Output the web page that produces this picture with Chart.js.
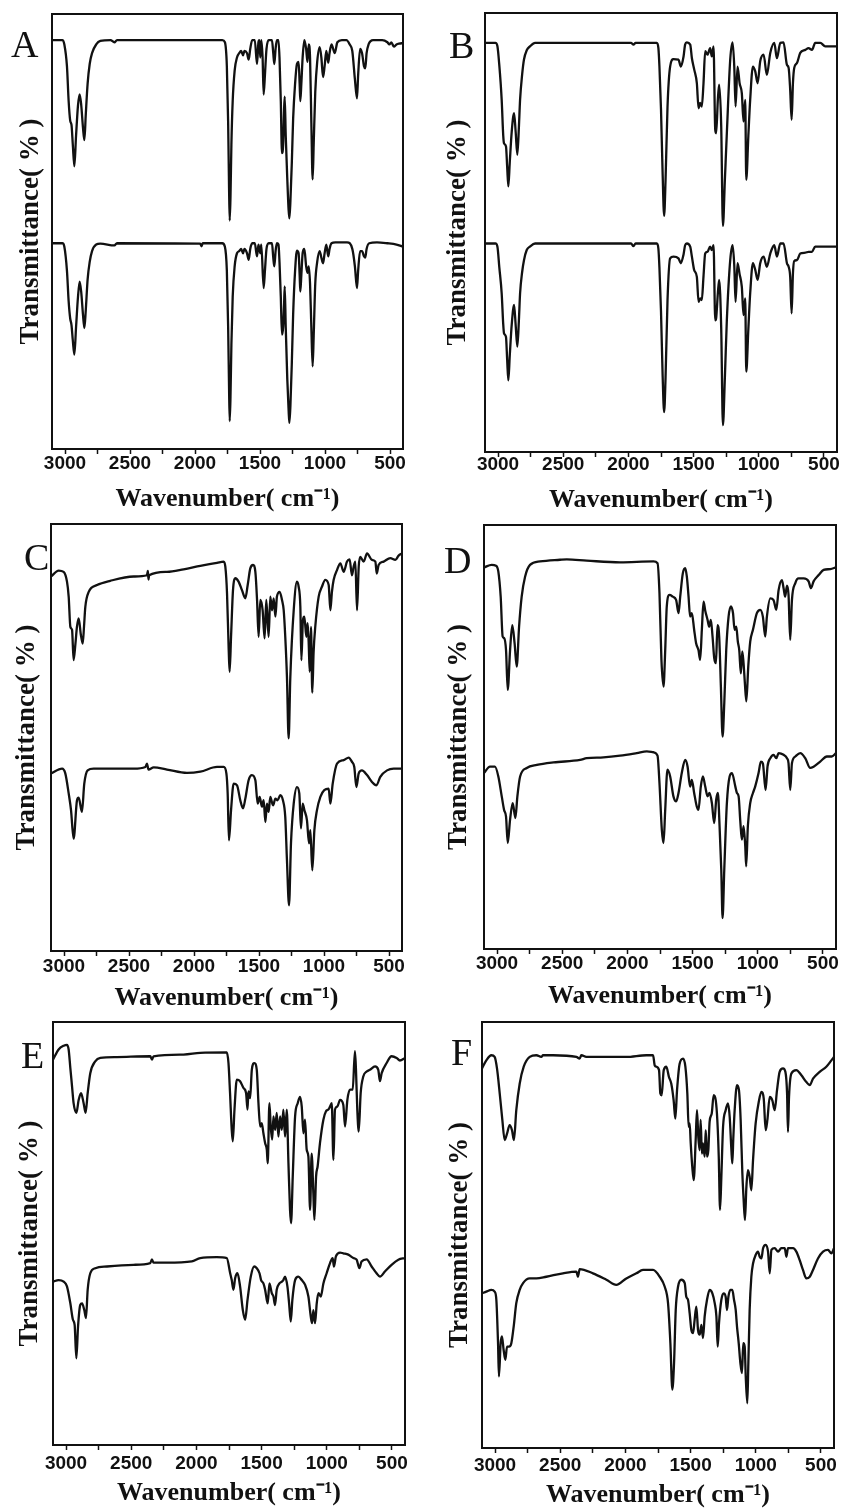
<!DOCTYPE html>
<html>
<head>
<meta charset="utf-8">
<script src="https://cdn.jsdelivr.net/npm/chart.js@4.4.1/dist/chart.umd.min.js"></script>
<style>
html,body{margin:0;padding:0;background:#fff;width:842px;height:1512px;overflow:hidden;position:relative}
.letter{position:absolute;font-family:"Liberation Serif","Times New Roman",serif;font-size:38px;line-height:38px;color:#111;white-space:nowrap}
</style>
</head>
<body>
<script>
// ---------- tick labels / titles ----------
const xTicksMajor = [3000, 2500, 2000, 1500, 1000, 500];
const xTicksMinor = [2750, 2250, 1750, 1250, 750];
const xAxisTitle = 'Wavenumber( cm\u207B\u00B9)';
const yAxisTitle = 'Transmittance( % )';
const panelLetters = ['A', 'B', 'C', 'D', 'E', 'F'];

// ---------- spectra: [wavenumber (cm-1), transmittance (a.u., offset)] ----------
const A_upper = [[3100,94],[3020,94],[3005,93],[2985,88],[2972,80],[2960,75.5],[2950,74.5],[2940,70],[2928,65],[2915,72],[2900,79],[2887,81.5],[2875,79],[2862,74],[2851,71],[2840,77],[2826,84],[2810,88.5],[2792,91],[2760,93],[2728,93.8],[2650,94],[2620,93.5],[2600,94],[1790,94],[1770,93.5],[1755,88],[1745,75],[1738,60],[1733,52.5],[1727,58],[1720,70],[1710,80],[1695,87],[1677,90],[1660,91],[1645,91.5],[1630,90.5],[1620,91.5],[1600,91],[1587,89.5],[1575,92],[1560,94],[1540,94],[1523,88.5],[1512,93.5],[1505,94],[1498,90],[1490,94],[1480,90],[1472,81.5],[1462,86],[1450,92],[1433,94],[1408,94],[1398,91],[1390,88.5],[1380,92],[1370,94],[1358,94],[1350,90],[1340,80],[1331,68],[1322,70],[1315,78],[1310,81],[1302,72],[1290,62],[1280,55],[1274,53],[1266,57],[1255,66],[1245,76],[1230,84],[1216,88.5],[1203,89],[1195,84],[1190,80],[1182,84],[1172,90],[1159,94],[1145,92],[1135,89],[1125,93],[1115,90],[1105,75],[1095,62],[1087,70],[1075,82],[1060,89],[1041,92.4],[1028,90],[1015,85.5],[1003,88],[990,91.5],[975,88.8],[965,91],[950,93],[925,91],[905,93.5],[870,94],[835,94],[810,93],[790,91.5],[770,85],[754,80.6],[745,86],[730,92],[715,91],[700,88],[690,87.5],[680,91],[665,93],[630,94],[560,94],[520,93.5],[505,93],[490,93.5],[470,92.5],[450,93],[430,93.2],[400,93.3]];
const A_lower = [[3100,47.3],[3020,47.3],[3005,46.5],[2985,41],[2972,34],[2960,30],[2950,28.5],[2940,25],[2928,21.7],[2915,28],[2900,35],[2887,38.5],[2875,36],[2862,31],[2851,27.8],[2840,32],[2826,39],[2810,43],[2792,45.5],[2760,47],[2728,47.2],[2620,46.8],[2600,47.3],[1960,47.2],[1950,46.6],[1940,47.3],[1790,47.3],[1770,46.5],[1755,41],[1745,28],[1738,14],[1733,6.4],[1727,12],[1720,24],[1710,35],[1695,42],[1677,45],[1660,45.5],[1645,46],[1630,45],[1620,46],[1600,45],[1587,43.5],[1575,46],[1560,47.3],[1540,47.3],[1523,44.3],[1512,47],[1498,45],[1490,47],[1472,37],[1462,41],[1450,46],[1433,47.3],[1408,47.3],[1398,44],[1390,42],[1380,45.5],[1370,47.3],[1358,47],[1350,43],[1340,35],[1331,26.3],[1322,28],[1315,33],[1310,37.4],[1302,28],[1290,16],[1280,9],[1274,6],[1266,10],[1255,20],[1245,31],[1230,41],[1216,45.6],[1203,45],[1195,40],[1190,36.2],[1182,40],[1172,45],[1159,46],[1145,42],[1135,40.5],[1125,42],[1115,38],[1105,28],[1095,19],[1087,26],[1075,38],[1060,43],[1041,45.5],[1028,44],[1015,42.7],[1003,45],[990,47],[975,44.3],[965,46],[950,47.3],[920,47.5],[870,47.5],[830,47.5],[790,46],[770,42],[754,37],[745,41],[730,45.5],[715,45.5],[700,44.3],[690,44],[680,46],[660,47.3],[600,47.5],[520,47.3],[450,47],[400,46.5]];

const B_upper = [[3100,93.2],[3020,93.2],[3005,92.5],[2990,88],[2972,80.2],[2960,72],[2954,70.3],[2939,69.6],[2930,65],[2921,60.5],[2910,66],[2895,73],[2877,77.2],[2865,73],[2852,67.7],[2840,74],[2831,80.2],[2815,86],[2801,89.4],[2780,91.5],[2755,92.4],[2716,93.2],[1980,93.2],[1961,92.8],[1945,93.2],[1782,93.2],[1770,92],[1762,87.8],[1750,78],[1738,64],[1726,53.8],[1715,62],[1700,78.7],[1680,87.8],[1654,89.5],[1616,89.4],[1598,87.8],[1577,90.1],[1565,92.8],[1552,93.3],[1526,92.8],[1513,89.7],[1495,87.1],[1475,84],[1462,78.3],[1450,79.5],[1437,78.7],[1424,84],[1411,91.3],[1393,90.5],[1373,92],[1360,90.1],[1347,92.4],[1334,73.4],[1327,72.6],[1314,80.2],[1304,83.7],[1288,74.1],[1275,51.5],[1260,62],[1245,72.6],[1219,89.4],[1201,93.3],[1188,87.8],[1178,78.7],[1163,87.8],[1147,84],[1130,81.7],[1117,75.3],[1104,80.2],[1096,62],[1080,72],[1066,80.2],[1045,87.8],[1027,86.7],[1009,84],[989,89],[963,90.5],[938,85.9],[912,90.9],[881,93.2],[861,89.7],[835,93.2],[810,93.3],[784,88.2],[771,87.5],[759,82.5],[748,75.7],[738,84],[728,87.5],[707,88.6],[682,90.9],[643,91.6],[618,92],[592,91.6],[567,93.2],[528,93.2],[490,92.4],[400,92.4]];
const B_lower = [[3100,47.5],[3020,47.5],[3005,46.8],[2990,42],[2972,36.1],[2960,29],[2954,27],[2939,26.2],[2930,21],[2921,16.3],[2910,22],[2895,29],[2877,33.5],[2865,29],[2852,24],[2840,30],[2831,36.1],[2815,41],[2801,43.7],[2780,46],[2755,46.8],[2716,47.5],[1980,47.5],[1961,46.9],[1945,47.5],[1782,47.5],[1770,46.3],[1762,42],[1750,32],[1738,18],[1726,9.1],[1715,17],[1700,34.6],[1680,44.1],[1654,44.5],[1616,44.1],[1598,43],[1577,45],[1565,47.1],[1552,47.5],[1526,46.8],[1513,44.5],[1495,41.4],[1475,39.9],[1462,34.2],[1450,35],[1437,34.6],[1424,40],[1411,45.2],[1393,45.6],[1373,46.8],[1360,46],[1347,47.1],[1334,30],[1327,30.5],[1314,36.1],[1304,39.2],[1288,28],[1275,6.1],[1260,17],[1245,30],[1219,43.7],[1201,47.1],[1188,42.5],[1178,34.2],[1163,43],[1147,40.5],[1130,37.6],[1117,31.2],[1104,35],[1096,18.3],[1080,28],[1066,36.1],[1045,43],[1027,41.5],[1009,39.2],[989,43],[963,44.5],[938,42.2],[912,45.2],[881,47.1],[861,44.5],[835,47.5],[810,47.5],[784,43],[771,42.2],[759,39.9],[748,31.6],[738,40.7],[728,43.5],[707,43.7],[682,45.2],[643,45.4],[618,45.6],[592,45.6],[567,46.8],[528,46.8],[490,46.8],[400,46.8]];

const C_upper = [[3100,87.7],[3041,89.1],[3003,88.8],[2977,86.5],[2964,83],[2951,75.9],[2938,75.2],[2926,68.1],[2912,72],[2900,76],[2887,77.9],[2870,74],[2856,72],[2846,76],[2836,80.6],[2810,84.1],[2746,85.7],[2644,86.7],[2464,87.7],[2362,88],[2355,89],[2350,87],[2345,88],[2208,88.8],[2080,89.4],[1951,90.2],[1823,90.9],[1772,91.2],[1759,90],[1746,83.8],[1733,70.5],[1726,65.4],[1715,73.6],[1700,84.5],[1682,87.3],[1657,86.5],[1631,84.5],[1605,82.6],[1587,85.7],[1567,89.6],[1546,90.4],[1528,88.8],[1515,82.2],[1503,73.6],[1490,82.2],[1472,79.8],[1457,73.2],[1444,82.2],[1426,73.6],[1413,83],[1400,79.8],[1387,82.6],[1374,78.3],[1362,83],[1341,84.1],[1323,82.2],[1310,79.8],[1298,73.6],[1285,64.2],[1272,49.8],[1259,64.2],[1233,79.8],[1208,86.5],[1195,85.3],[1182,80.6],[1174,68.1],[1162,77.5],[1151,78.3],[1136,73.6],[1126,76.8],[1118,72.4],[1110,65.4],[1100,75.9],[1090,60.5],[1080,70],[1067,76],[1041,83],[1016,85.3],[990,86.9],[964,85.7],[951,79.8],[939,84.1],[926,86.9],[900,89.2],[874,90.8],[849,88.8],[823,91.2],[803,91.7],[785,88],[772,90],[759,91.2],[746,79.8],[733,90],[721,92.3],[695,91.2],[669,93.1],[631,91.6],[605,91.2],[594,88.4],[580,90.4],[541,91.2],[490,92],[451,91.6],[426,92.6],[400,93.1]];
const C_lower = [[3100,41.6],[3015,42.7],[2990,41.6],[2964,36.9],[2946,33],[2926,26.3],[2900,35.3],[2887,35.9],[2862,32.6],[2844,39.2],[2818,42.3],[2772,42.7],[2464,42.7],[2374,43.1],[2362,43.9],[2350,42.5],[2310,43],[2208,42.5],[2054,41.7],[1951,42],[1823,43.1],[1772,43.1],[1751,41.6],[1741,36.9],[1731,25.9],[1715,33],[1695,39.2],[1669,38.8],[1644,35.3],[1623,33.4],[1605,35.7],[1580,40],[1554,41.2],[1528,40],[1510,34.5],[1495,36.1],[1477,33.8],[1464,35.3],[1451,30.2],[1439,34.5],[1426,32.6],[1413,36.1],[1392,34.1],[1374,35.7],[1357,35.3],[1336,36.5],[1316,35.3],[1298,31.4],[1285,21.3],[1269,10.7],[1254,25.2],[1233,34.5],[1208,38.4],[1190,36.9],[1177,28.7],[1164,34.5],[1151,33],[1131,30.6],[1115,25.2],[1105,28.3],[1090,18.9],[1074,28.3],[1054,33],[1028,36.1],[998,37.7],[964,38],[951,34.5],[933,39.2],[900,43.9],[849,44.7],[810,45.3],[785,44.3],[767,43.1],[751,38.4],[733,41.6],[708,42.3],[669,41.2],[631,39.6],[597,38.8],[567,40.8],[515,42.3],[464,42.7],[400,42.7]];

const D_upper = [[3100,90],[3041,90.6],[3008,90.4],[2990,89],[2972,83.1],[2957,73.7],[2945,73.3],[2931,70.5],[2918,61.1],[2900,70.5],[2883,76.4],[2865,72],[2849,66.6],[2831,76],[2811,83.1],[2785,87.8],[2747,90.6],[2670,91.4],[2517,91.8],[2465,91.9],[2312,91.6],[2056,91.2],[1800,91.4],[1769,91],[1754,83.9],[1739,68.2],[1723,61.9],[1710,70.5],[1698,80.8],[1677,83.5],[1652,83.1],[1626,82.3],[1608,79.2],[1595,83.1],[1575,88.6],[1557,89.8],[1544,87.8],[1531,83.1],[1519,78.4],[1506,79.2],[1488,75.3],[1473,72.1],[1455,70.5],[1442,68.2],[1429,75.3],[1416,81.9],[1403,79.8],[1385,77.6],[1373,76],[1360,77.6],[1347,73.7],[1334,68.6],[1321,67.4],[1309,76.4],[1296,73.7],[1283,61.9],[1270,50.1],[1257,58],[1242,70.5],[1224,78.4],[1206,80.8],[1190,79.2],[1178,75.3],[1165,76],[1153,72.5],[1142,70.5],[1130,65],[1119,70.2],[1109,67.4],[1099,62.7],[1088,58.4],[1073,66.6],[1058,72.5],[1037,75.3],[1007,79.2],[981,80],[961,78.4],[943,73.7],[930,78.4],[904,82.7],[879,82.3],[858,80],[840,84.7],[815,87],[802,85.1],[790,83.1],[776,85.7],[764,83.5],[751,72.9],[738,82.3],[712,86.3],[687,87.4],[648,87.4],[610,86.7],[592,85.1],[572,86.7],[533,88.2],[495,89.4],[444,89.6],[400,90]];
const D_lower = [[3100,41.5],[3054,43],[3016,43],[2990,40.7],[2964,36],[2946,32.8],[2931,31.2],[2918,25],[2900,30.5],[2880,34.4],[2859,30.9],[2844,36],[2823,40.7],[2772,42.7],[2695,43.4],[2567,44],[2363,44.6],[2312,45],[2184,45.2],[2056,45.6],[1928,46.2],[1851,46.6],[1800,46.4],[1769,45.6],[1754,39.1],[1736,28.1],[1723,25],[1710,32.8],[1693,42.3],[1672,40.7],[1647,36],[1626,34.8],[1608,36.8],[1583,41.5],[1557,44.6],[1539,43.1],[1519,38.3],[1506,39.9],[1488,36.8],[1468,33.6],[1455,32.8],[1437,38.3],[1421,40.7],[1403,38.3],[1385,36],[1370,36.8],[1352,34.4],[1334,29.7],[1319,35.2],[1306,36.8],[1293,28.9],[1280,18.7],[1270,7.3],[1257,18.7],[1237,34.4],[1216,40.7],[1198,41.5],[1172,38.3],[1160,36.8],[1147,36],[1134,30.1],[1122,25.8],[1109,29],[1096,24.2],[1089,19.5],[1076,29],[1058,34.4],[1037,36.8],[1020,38.3],[994,41.5],[976,44.2],[961,43.8],[940,37.5],[925,43.1],[904,45],[879,45.8],[858,45],[840,46.2],[802,45.8],[776,45],[764,43.8],[751,37.5],[738,43.8],[712,45.4],[674,46.2],[636,45],[598,42.7],[572,43],[521,44.2],[470,45.4],[433,45.4],[400,46.2]];

const E_upper = [[3100,91.1],[3057,93.5],[3018,94.4],[2993,94.6],[2980,93.5],[2967,89.1],[2954,84.8],[2942,80.8],[2921,78.5],[2903,81.6],[2885,83.2],[2865,80.8],[2850,78.5],[2834,83.2],[2814,87.9],[2776,90.7],[2737,91.5],[2610,91.7],[2354,91.9],[2341,91.1],[2329,91.9],[2099,92.3],[1971,92.7],[1767,92.8],[1754,90.3],[1742,83.2],[1729,74.5],[1721,71.8],[1708,79.3],[1690,86.4],[1665,86],[1639,84.4],[1619,83.2],[1608,79.3],[1601,83.6],[1588,82],[1575,88.7],[1555,90.3],[1537,88.7],[1524,80.8],[1511,75.3],[1499,76.1],[1486,73.7],[1473,71.4],[1460,69.8],[1453,66.6],[1440,80.8],[1430,75.3],[1419,72.2],[1409,77.7],[1396,74.5],[1384,78.5],[1371,72.9],[1358,77.7],[1345,74.5],[1333,79.3],[1320,72.9],[1307,79.3],[1294,66.6],[1282,55.6],[1274,52.4],[1261,63.5],[1243,77.7],[1223,80.8],[1205,82.3],[1192,80],[1179,73.7],[1167,76.9],[1154,69.8],[1141,68.2],[1128,55.6],[1116,68.9],[1103,59.5],[1095,53.2],[1082,63.5],[1070,65.9],[1052,71.4],[1026,76.9],[1006,78.9],[988,79.3],[975,80],[962,80.8],[949,67.4],[937,79.3],[919,80],[898,81.6],[873,80.4],[860,75.3],[842,81.6],[822,84],[801,84],[784,93.1],[776,88.7],[766,79.3],[755,74.1],[740,83.2],[720,87.1],[694,88.3],[669,88.7],[630,89.5],[605,88.7],[592,86],[579,87.9],[541,90.3],[503,91.9],[464,91.5],[439,90.9],[400,91.5]];
const E_lower = [[3100,38.6],[3057,39],[3018,38.6],[2993,37.5],[2967,33.5],[2947,29.6],[2934,28.4],[2921,20.5],[2908,28],[2891,33.1],[2877,33.5],[2860,31.9],[2847,30],[2834,36.7],[2814,40.6],[2776,41.8],[2686,42.2],[2482,42.6],[2354,43],[2341,43.9],[2329,43.1],[2227,43.1],[2035,43.4],[1971,44.2],[1844,44.4],[1767,44.2],[1741,40.6],[1729,39],[1716,36.7],[1703,39.4],[1685,40.6],[1665,37.5],[1644,31.9],[1626,29.6],[1608,34.3],[1583,39.8],[1557,42.2],[1537,41.8],[1516,40.6],[1504,39],[1486,38.2],[1473,36.7],[1460,34.3],[1453,33.5],[1440,38.2],[1422,35.9],[1409,35.1],[1397,33.1],[1384,36.7],[1363,38.2],[1345,38.6],[1333,39],[1320,39.8],[1302,37.5],[1289,33.5],[1276,29.2],[1264,34.3],[1243,39],[1218,39.8],[1192,39],[1167,37.9],[1141,35.1],[1123,30.4],[1113,28.8],[1103,31.9],[1090,28.8],[1077,33.5],[1064,35.9],[1046,35.1],[1026,38.2],[1001,40.6],[975,43],[955,44.2],[945,42.2],[930,44.6],[898,45.5],[873,45.3],[835,45],[796,44.2],[771,43.8],[750,41.8],[733,43.4],[694,43.9],[656,42.2],[618,40.6],[592,39.8],[554,41],[503,42.6],[451,43.8],[400,44.2]];

const F_upper = [[3100,89.1],[3067,91],[3028,92.2],[3003,91.8],[2985,89.1],[2964,83.2],[2944,77],[2926,72.3],[2908,73.8],[2888,75.8],[2870,74.6],[2855,72.3],[2837,79.3],[2811,85.5],[2780,89.5],[2734,91.8],[2683,92.2],[2645,91.8],[2632,92.2],[2555,92.2],[2376,91.8],[2351,91.4],[2338,92.2],[2300,91.8],[2172,91.8],[1993,91.8],[1839,92.2],[1788,92.2],[1775,89.8],[1762,89.5],[1742,88.7],[1732,83.2],[1722,82.8],[1706,88.7],[1686,89.5],[1666,87.1],[1648,85.5],[1630,81.6],[1617,77.3],[1604,84],[1584,90.2],[1558,91.4],[1540,89.5],[1525,83.2],[1515,75.4],[1507,76.2],[1499,71.5],[1487,66],[1476,62.9],[1461,72.3],[1451,79.3],[1441,73],[1431,69.9],[1423,77],[1413,69.1],[1405,71.5],[1392,68.4],[1384,74.6],[1374,68.4],[1364,69.9],[1354,76.6],[1338,78.5],[1323,82.8],[1307,81.6],[1295,77],[1284,68.4],[1274,55.9],[1264,63.7],[1251,75.4],[1231,79.3],[1213,80.9],[1200,77.7],[1187,69.9],[1180,66.8],[1172,73],[1162,79.3],[1144,85.2],[1129,84],[1116,77],[1103,64.5],[1093,58.2],[1083,53.5],[1072,61.3],[1060,65.2],[1047,63.7],[1034,60.5],[1021,67.6],[1001,76.2],[975,81.6],[957,83.6],[939,82],[924,74.6],[911,77],[893,82.4],[873,81.6],[855,79.3],[837,84],[817,88.3],[791,89.1],[773,88.3],[760,83.2],[753,74.2],[745,82.4],[727,87.9],[689,88.7],[650,87.5],[612,85.9],[586,85.2],[561,86.7],[510,88.3],[459,89.5],[420,91],[400,91.8]];
const F_lower = [[3100,36.3],[3067,36.7],[3028,37.1],[3003,36.7],[2990,34.8],[2977,24.6],[2970,16.8],[2957,24.6],[2947,26.2],[2934,23],[2921,20.7],[2908,23.8],[2893,23.8],[2875,24.6],[2857,28.5],[2837,34],[2811,37.1],[2785,38.7],[2734,39.8],[2683,39.8],[2607,40.2],[2479,41],[2376,41.4],[2364,40.2],[2351,42],[2249,41],[2146,39.5],[2070,38.3],[1993,39.8],[1916,41],[1865,41.8],[1788,41.8],[1737,40.2],[1699,37.9],[1673,34],[1655,24.6],[1640,13.7],[1627,19.9],[1614,32.4],[1596,37.9],[1571,39.5],[1545,38.7],[1533,35.5],[1520,34.8],[1507,31.6],[1494,27.7],[1481,27],[1469,30.1],[1456,33.2],[1443,27.7],[1430,26.6],[1417,28.9],[1405,25.8],[1392,30.9],[1374,34.8],[1354,37.1],[1333,36.3],[1315,34],[1302,30.9],[1292,23.8],[1282,29.3],[1264,34.8],[1246,36.3],[1231,35.5],[1221,32.4],[1210,35.5],[1195,37.1],[1180,37.1],[1167,34.8],[1154,32.4],[1144,28.5],[1131,24.6],[1118,19.9],[1106,17.6],[1096,24.6],[1085,23.8],[1077,16.8],[1065,10.5],[1057,19.9],[1047,32.4],[1034,40.2],[1021,43.3],[1001,45.3],[983,46.1],[970,44.9],[957,44.5],[944,46.9],[924,47.7],[906,46.1],[893,41],[880,46.5],[855,46.9],[829,46.1],[804,46.9],[778,46.9],[765,44.9],[753,46.9],[714,46.9],[689,46.1],[663,44.1],[638,41.8],[612,39.8],[586,40.2],[561,41.8],[523,44.5],[484,46.1],[446,46.5],[420,45.7],[400,46.9]];

// ---------- layout (page pixels) ----------
const panels = [
  {upper: A_upper, lower: A_lower, box: [52, 14, 403, 449],    col: 0, xTitleY: 499,  yTitleX: 31.5, tickY: 463.5,  letterAt: [12, 32]},
  {upper: B_upper, lower: B_lower, box: [485, 13, 837, 452],   col: 1, xTitleY: 500,  yTitleX: 458,  tickY: 465,    letterAt: [450, 33]},
  {upper: C_upper, lower: C_lower, box: [51, 524, 402, 951],   col: 0, xTitleY: 998,  yTitleX: 27,   tickY: 967,    letterAt: [25, 545]},
  {upper: D_upper, lower: D_lower, box: [484, 525, 836, 949],  col: 1, xTitleY: 996,  yTitleX: 459,  tickY: 964,    letterAt: [445, 548]},
  {upper: E_upper, lower: E_lower, box: [53, 1022, 405, 1445], col: 0, xTitleY: 1493, yTitleX: 30,   tickY: 1463.5, letterAt: [22, 1043]},
  {upper: F_upper, lower: F_lower, box: [482, 1022, 834, 1448],col: 1, xTitleY: 1495, yTitleX: 460,  tickY: 1466,   letterAt: [452, 1040]}
];

const INK = '#111';
const TICK_FONT = 19, XT_FONT = 26, YT_FONT = 27, TICK_LEN = 5, LH = 1.2;
const allTicks = xTicksMajor.concat(xTicksMinor).sort((a, b) => b - a);

const framePlugin = {
  id: 'frame',
  afterDraw(chart) {
    const {ctx, chartArea: {left, top, right, bottom}} = chart;
    ctx.save();
    ctx.strokeStyle = INK;
    ctx.lineWidth = 2;
    ctx.strokeRect(left, top, right - left, bottom - top);
    ctx.restore();
  }
};

function toSeries(arr) {
  return {
    data: arr.map(([x, y]) => ({x, y})),
    borderColor: INK,
    borderWidth: 2.3,
    pointRadius: 0,
    cubicInterpolationMode: 'monotone',
    fill: false,
    borderJoinStyle: 'round'
  };
}

panels.forEach((p, i) => {
  const [bl, bt, br, bb] = p.box;
  const cl = p.col === 0 ? 0 : 421;
  const ct = bt - 6;
  const cr = br + 8;
  const cb = Math.round(p.xTitleY + XT_FONT * LH / 2);
  const w = cr - cl, h = cb - ct;

  const canvas = document.createElement('canvas');
  canvas.width = w; canvas.height = h;
  canvas.style.cssText = `position:absolute;left:${cl}px;top:${ct}px;width:${w}px;height:${h}px`;
  document.body.appendChild(canvas);

  const letter = document.createElement('div');
  letter.className = 'letter';
  letter.textContent = panelLetters[i];
  letter.style.left = (p.letterAt[0] - 1) + 'px';
  letter.style.top = (p.letterAt[1] - 6.7) + 'px';
  document.body.appendChild(letter);

  new Chart(canvas, {
    type: 'line',
    data: {datasets: [toSeries(p.upper), toSeries(p.lower)]},
    options: {
      responsive: false,
      animation: false,
      events: [],
      layout: {padding: {top: bt - ct, right: cr - br, left: 0, bottom: 0}},
      plugins: {legend: {display: false}, tooltip: {enabled: false}, title: {display: false}},
      scales: {
        x: {
          type: 'linear', reverse: true, min: 400, max: 3100,
          afterBuildTicks: s => { s.ticks = allTicks.map(v => ({value: v})); },
          afterFit: s => { s.height = cb - bb; },
          ticks: {
            autoSkip: false, maxRotation: 0, minRotation: 0,
            padding: p.tickY - bb - TICK_LEN - TICK_FONT * LH / 2,
            color: INK,
            font: {family: '"Liberation Sans", Arial, sans-serif', size: TICK_FONT, weight: 'bold'},
            callback: v => xTicksMajor.includes(v) ? String(v) : ''
          },
          grid: {display: true, drawOnChartArea: false, drawTicks: true, tickLength: TICK_LEN, tickWidth: 1.5, tickColor: INK},
          border: {display: false},
          title: {
            display: true, text: xAxisTitle, color: INK, padding: {top: 0, bottom: 0},
            font: {family: '"Liberation Serif", "Times New Roman", serif', size: XT_FONT, weight: 'bold'}
          }
        },
        y: {
          type: 'linear', min: 0, max: 100,
          afterFit: s => { s.width = bl - cl; },
          ticks: {display: false},
          grid: {display: false, drawTicks: false},
          border: {display: false},
          title: {
            display: true, text: yAxisTitle, color: INK,
            padding: {top: p.yTitleX - cl - YT_FONT * LH / 2, bottom: 0},
            font: {family: '"Liberation Serif", "Times New Roman", serif', size: YT_FONT, weight: 'bold'}
          }
        }
      }
    },
    plugins: [framePlugin]
  });
});
</script>
</body>
</html>
